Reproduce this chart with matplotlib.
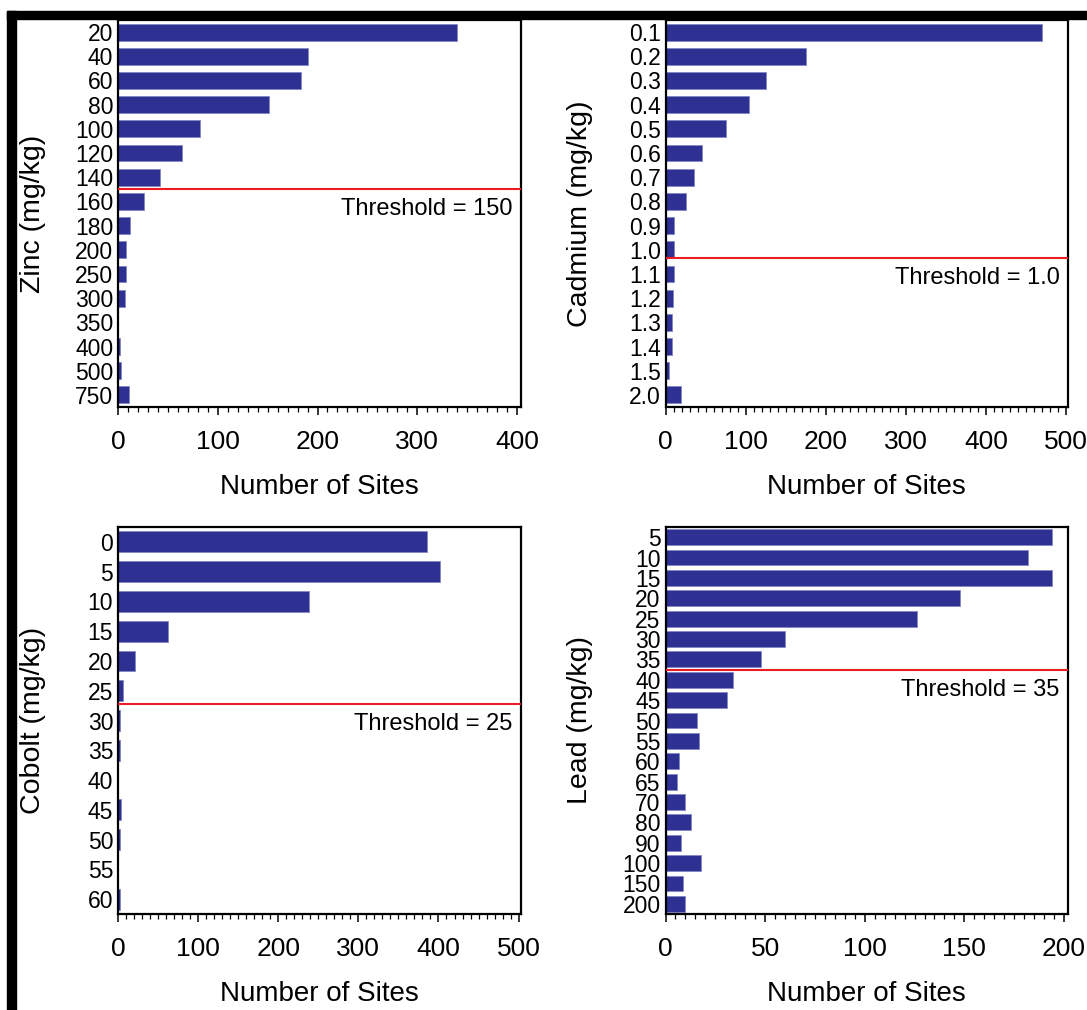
"""Soil metal concentration histograms with regulatory thresholds."""

from __future__ import annotations

from typing import List

import matplotlib

matplotlib.use("Agg")
import matplotlib.pyplot as plt
from matplotlib.patches import Rectangle
from matplotlib.ticker import MultipleLocator

# Data: concentration class -> number of sites
zinc_classes = ["20", "40", "60", "80", "100", "120", "140", "160", "180",
                "200", "250", "300", "350", "400", "500", "750"]
zinc_sites = [340, 190, 183, 151, 82, 64, 42, 26, 12, 8, 8, 7, 0, 2, 3, 11]

cadmium_classes = ["0.1", "0.2", "0.3", "0.4", "0.5", "0.6", "0.7", "0.8",
                   "0.9", "1.0", "1.1", "1.2", "1.3", "1.4", "1.5", "2.0"]
cadmium_sites = [470, 176, 126, 104, 75, 45, 35, 26, 10, 11, 11, 9, 8, 8, 4, 19]

cobalt_classes = ["0", "5", "10", "15", "20", "25", "30", "35", "40", "45",
                  "50", "55", "60"]
cobalt_sites = [386, 402, 238, 63, 21, 6, 3, 3, 0, 4, 2, 0, 2]

lead_classes = ["5", "10", "15", "20", "25", "30", "35", "40", "45", "50",
                "55", "60", "65", "70", "80", "90", "100", "150", "200"]
lead_sites = [194, 182, 194, 148, 126, 60, 48, 34, 31, 16, 17, 7, 6, 10, 13,
              8, 18, 9, 10]

# Threshold labels and where the line falls between classes
threshold_labels = ["Threshold = 150", "Threshold = 1.0", "Threshold = 25",
                    "Threshold = 35"]
threshold_rows = [6.5, 9.35, 5.45, 6.5]

BAR_COLOR = "#2e3192"
LINE_COLOR = "#ed1c24"
W, H = 1087, 1010

plt.rcParams["font.family"] = ["Liberation Sans", "DejaVu Sans"]


def _axes_rect(left: float, top: float, right: float, bottom: float) -> List[float]:
    """Convert pixel box into figure fractions."""
    return [left / W, 1 - bottom / H, (right - left) / W, (bottom - top) / H]


def _plot_panel(ax, classes, sites, ylabel, xmax, major, minor,
                thr_label, thr_row, bar_height=0.7) -> None:
    rows = list(range(len(classes)))
    ax.barh(rows, sites, height=bar_height, color=BAR_COLOR,
            edgecolor="#8587c6", linewidth=0.6, zorder=2)
    ax.set_ylim(len(classes) - 0.5, -0.5)
    ax.set_xlim(0, xmax)
    ax.set_yticks(rows)
    ax.set_yticklabels(classes)
    ax.xaxis.set_major_locator(MultipleLocator(major))
    ax.xaxis.set_minor_locator(MultipleLocator(minor))
    ax.tick_params(axis="y", length=0, pad=3.5, labelsize=16.5)
    ax.tick_params(axis="x", which="major", length=6, width=1.1, pad=10.5,
                   labelsize=19, direction="out")
    ax.tick_params(axis="x", which="minor", length=3.5, width=0.9,
                   direction="out")
    for spine in ax.spines.values():
        spine.set_linewidth(1.6)

    ax.axhline(thr_row, color=LINE_COLOR, linewidth=1.5, zorder=3)
    ax.annotate(thr_label, xy=(1, thr_row), xycoords=("axes fraction", "data"),
                xytext=(-6, -14.5), textcoords="offset points",
                ha="right", va="center", fontsize=17)

    ax.set_xlabel("Number of Sites", fontsize=20, va="center")
    ax.xaxis.set_label_coords(0.5, -80 / 387)
    ax.set_ylabel(ylabel, fontsize=20.5, va="center")
    ax.yaxis.set_label_coords(-0.212, 0.5)


fig = plt.figure(figsize=(W / 100, H / 100), dpi=100)

ax_zn = fig.add_axes(_axes_rect(118, 20, 521, 407))
ax_cd = fig.add_axes(_axes_rect(665.5, 20, 1068, 407))
ax_co = fig.add_axes(_axes_rect(118, 527, 521, 914))
ax_pb = fig.add_axes(_axes_rect(665.5, 527, 1068, 914))

_plot_panel(ax_zn, zinc_classes, zinc_sites, "Zinc (mg/kg)", 404, 100, 10,
            threshold_labels[0], threshold_rows[0])
_plot_panel(ax_cd, cadmium_classes, cadmium_sites, "Cadmium (mg/kg)", 502.5,
            100, 10, threshold_labels[1], threshold_rows[1])
_plot_panel(ax_co, cobalt_classes, cobalt_sites, "Cobolt (mg/kg)", 503, 100,
            10, threshold_labels[2], threshold_rows[2])
_plot_panel(ax_pb, lead_classes, lead_sites, "Lead (mg/kg)", 202, 50, 5,
            threshold_labels[3], threshold_rows[3], bar_height=0.78)

# black frame along the left and top edges
fig.add_artist(Rectangle((7 / W, 0), 9 / W, 1 - 11 / H,
                         transform=fig.transFigure, color="black"))
fig.add_artist(Rectangle((7 / W, 1 - 19 / H), 1 - 7 / W, 8 / H,
                         transform=fig.transFigure, color="black"))

fig.savefig("out.png", dpi=100)
plt.close(fig)
